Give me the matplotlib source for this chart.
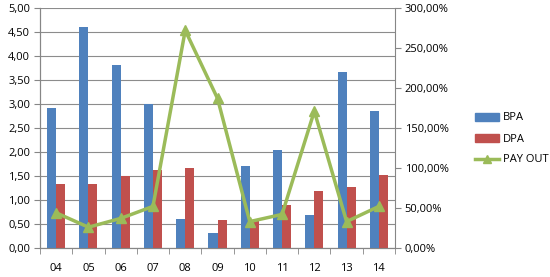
import matplotlib
matplotlib.use("Agg")
import matplotlib.pyplot as plt
import numpy as np
from matplotlib.ticker import FuncFormatter, MultipleLocator
from matplotlib.lines import Line2D
from matplotlib.patches import Patch

years = ["04", "05", "06", "07", "08", "09", "10", "11", "12", "13", "14"]
bpa = [2.92, 4.60, 3.81, 2.99, 0.60, 0.31, 1.71, 2.04, 0.69, 3.67, 2.85]
dpa = [1.33, 1.33, 1.49, 1.62, 1.67, 0.58, 0.58, 0.89, 1.19, 1.27, 1.52]
payout = [44, 26, 37, 52, 272, 187, 33, 42, 171, 33, 52]

plt.rcParams['font.family'] = ['Open Sans', 'DejaVu Sans']

fig = plt.figure(figsize=(5.5, 2.77), dpi=100)
ax = fig.add_axes([40/550, 1-248/277, 355/550, 240/277])
ax2 = ax.twinx()

x = np.arange(len(years))
w = 0.28
ax.bar(x - w/2, bpa, w, color="#4F81BD", zorder=3, label="BPA")
ax.bar(x + w/2, dpa, w, color="#C0504D", zorder=3, label="DPA")
ax2.plot(x, payout, color="#9BBB59", lw=2.5, marker="^", ms=7, zorder=4)

ax.set_xlim(-0.5, len(years) - 0.5)
ax.set_ylim(0, 5)
ax2.set_ylim(0, 300)
ax.yaxis.set_major_locator(MultipleLocator(0.5))
ax2.yaxis.set_major_locator(MultipleLocator(50))
ax.yaxis.set_major_formatter(FuncFormatter(lambda v, p: f"{v:.2f}".replace(".", ",")))
ax2.yaxis.set_major_formatter(FuncFormatter(lambda v, p: f"{v:.2f}".replace(".", ",") + "%"))
ax.grid(axis="y", color="#8C8C8C", lw=0.8, zorder=0)
ax.set_axisbelow(True)

ax.set_xticks(x)
ax.set_xticklabels(years)
ax.set_xticks(np.arange(-0.5, len(years)), minor=True)
ax.tick_params(axis="x", which="major", length=0, pad=11, labelsize=8, colors="#000000")
ax.tick_params(axis="x", which="minor", length=4, color="#868686")
ax.tick_params(axis="y", length=4, color="#868686", labelsize=8, pad=3)
ax2.tick_params(axis="y", length=4, color="#868686", labelsize=8, pad=3)

for a in (ax, ax2):
    a.spines["top"].set_visible(False)
    for s in ("left", "right", "bottom"):
        a.spines[s].set_color("#868686")
ax.spines["right"].set_visible(False)

handles = [Patch(color="#4F81BD"), Patch(color="#C0504D"),
           Line2D([0], [0], color="#9BBB59", lw=2.5, marker="^", ms=6)]
fig.legend(handles, ["BPA", "DPA", "PAY OUT"], loc="center left",
           bbox_to_anchor=(465/550, 1-139/277), frameon=False, fontsize=8,
           handlelength=2.2, handletextpad=0.3, labelspacing=0.9)

fig.savefig("out.png", dpi=100)
